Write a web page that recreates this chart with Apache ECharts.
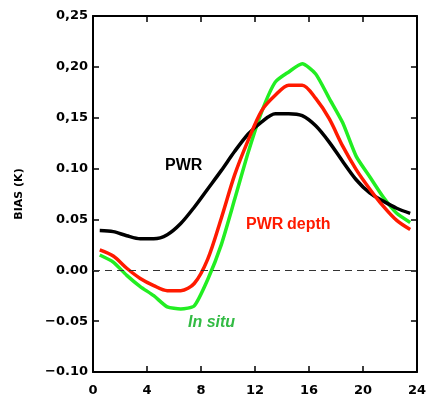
<!DOCTYPE html>
<html><head><meta charset="utf-8">
<script src="https://cdn.jsdelivr.net/npm/echarts@6/dist/echarts.min.js"></script>
<style>html,body{margin:0;padding:0;background:#fff}#c{width:429px;height:398px}</style>
</head><body><div id="c"></div>
<script>
const hours = [0.5,1.5,2.5,3.5,4.5,5.5,6.5,7.5,8.5,9.5,10.5,11.5,12.5,13.5,14.5,15.5,16.5,17.5,18.5,19.5,20.5,21.5,22.5,23.5];
const pwr = [0.039,0.038,0.034,0.031,0.031,0.035,0.046,0.062,0.080,0.098,0.117,0.134,0.146,0.154,0.154,0.152,0.142,0.126,0.107,0.089,0.076,0.068,0.061,0.056];
const pwrDepth = [0.020,0.014,0.002,-0.008,-0.015,-0.020,-0.020,-0.013,0.011,0.051,0.094,0.128,0.157,0.172,0.182,0.182,0.169,0.149,0.122,0.099,0.080,0.063,0.049,0.040];
const inSitu = [0.015,0.008,-0.005,-0.016,-0.025,-0.036,-0.038,-0.035,-0.009,0.025,0.070,0.116,0.156,0.185,0.195,0.203,0.193,0.169,0.145,0.112,0.092,0.072,0.056,0.047];
const xTicks = [0,4,8,12,16,20,24];
const yTickLabels = {"0.25":"0,25","0.2":"0,20","0.15":"0,15","0.1":"0.10","0.05":"0.05","0":"0.00","-0.05":"\u22120.05","-0.1":"\u22120.10"};

const FONT = "DejaVu Sans, Verdana, sans-serif";
const LFONT = "Liberation Sans, Arial, sans-serif";
const axisLine = {show:true, onZero:false, lineStyle:{color:'#000', width:2}};
const tickIn = {show:true, inside:true, length:6, lineStyle:{color:'#000', width:1.5}};
function pairs(ys){ return hours.map((h,i)=>[h, ys[i]]); }
const chart = echarts.init(document.getElementById('c'), null, {renderer:'canvas'});
chart.setOption({
  animation:false,
  grid:{left:93, right:7, top:16, bottom:26, containLabel:false},
  xAxis:[
    {type:'value', min:0, max:24, interval:4, axisLine, axisTick:tickIn, splitLine:{show:false},
     axisLabel:{color:'#000', fontFamily:FONT, fontWeight:'bold', fontSize:13, margin:12,
       formatter:v=>xTicks.includes(v)?String(v):''}},
    {type:'value', position:'top', min:0, max:24, interval:4, axisLine, axisTick:tickIn, splitLine:{show:false}, axisLabel:{show:false}}
  ],
  yAxis:[
    {type:'value', min:-0.1, max:0.25, interval:0.05, axisLine, axisTick:tickIn, splitLine:{show:false},
     name:'BIAS (K)', nameLocation:'middle', nameGap:68, nameRotate:90,
     nameTextStyle:{color:'#000', fontFamily:FONT, fontWeight:'bold', fontSize:11},
     axisLabel:{color:'#000', fontFamily:FONT, fontWeight:'bold', fontSize:13, margin:5,
       formatter:v=>{const k=String(Math.round(v*100)/100); return yTickLabels[k]!==undefined?yTickLabels[k]:k;}}},
    {type:'value', position:'right', min:-0.1, max:0.25, interval:0.05, axisLine, axisTick:tickIn, splitLine:{show:false}, axisLabel:{show:false}}
  ],
  series:[
    {type:'line', data:pairs(pwr), showSymbol:false, smooth:0.3, lineStyle:{color:'#000', width:3.5}, z:3,
     markLine:{silent:true, symbol:'none', label:{show:false}, lineStyle:{color:'#333', type:[7,5], width:1}, data:[{yAxis:0}]}},
    {type:'line', data:pairs(inSitu), showSymbol:false, smooth:0.2, lineStyle:{color:'#22ee22', width:3.5}, z:2},
    {type:'line', data:pairs(pwrDepth), showSymbol:false, smooth:0.3, lineStyle:{color:'#ff1a00', width:3.5}, z:4}
  ],
  graphic:[
    {type:'text', left:165, top:158, style:{text:'PWR', fill:'#000', font:'bold 16px '+LFONT}},
    {type:'text', left:246, top:217, style:{text:'PWR', fill:'#ff1a00', font:'bold 16px '+LFONT}},
    {type:'text', left:287, top:217, style:{text:'depth', fill:'#ff1a00', font:'bold 16px '+LFONT}},
    {type:'text', left:188, top:315, style:{text:'In situ', fill:'#33bb44', font:'italic bold 16px '+LFONT}}
  ]
});
</script></body></html>
